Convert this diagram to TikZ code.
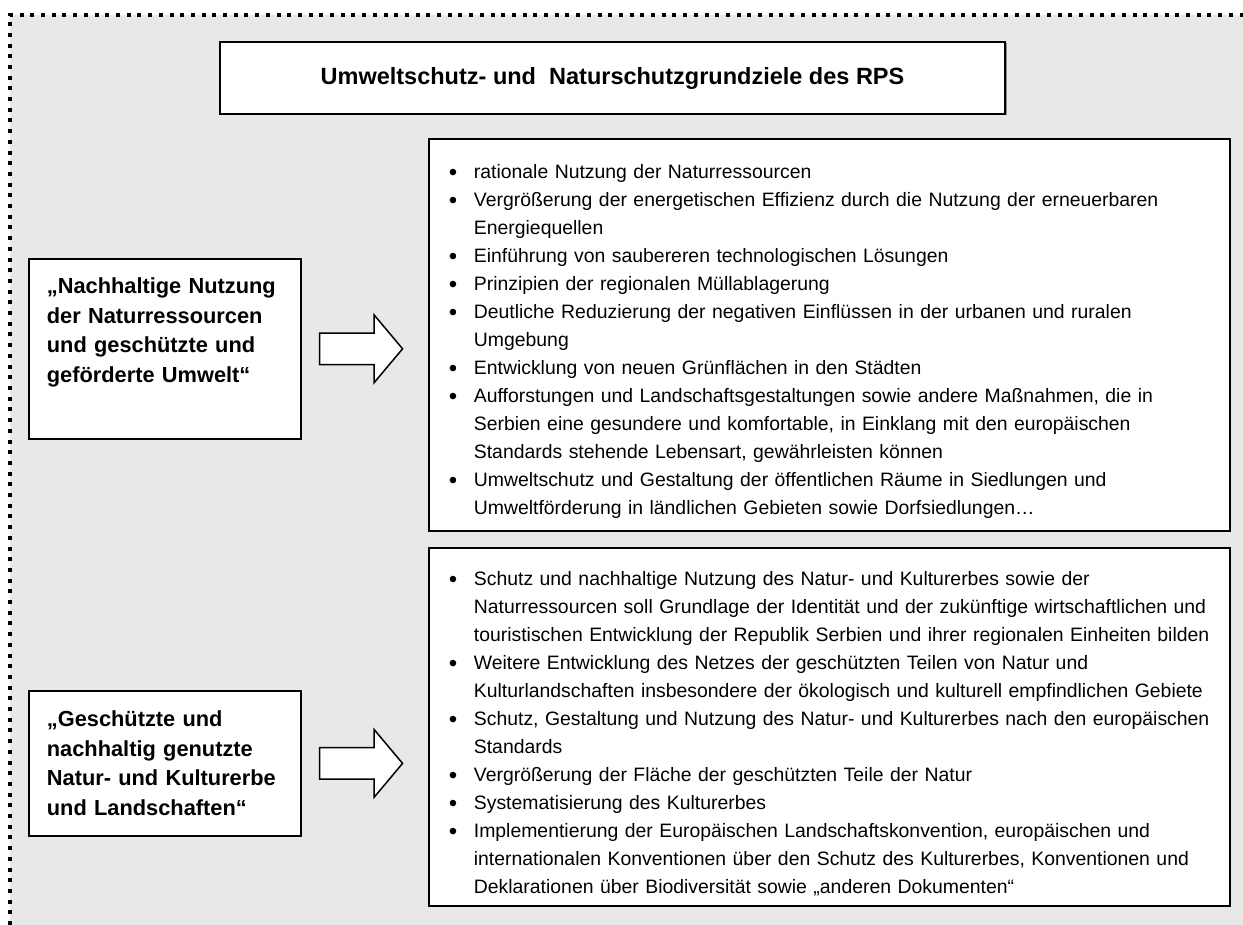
\documentclass[tikz,border=0pt]{standalone}
\usepackage{fontspec}
\setmainfont{Liberation Sans}
\usetikzlibrary{positioning,shapes.arrows,shadows}
\definecolor{panelgray}{RGB}{232,232,232}
\newcommand{\gitem}[1]{\par\noindent\hangindent=41pt\hangafter=1\makebox[41pt][l]{\hspace{16pt}{\fontsize{24pt}{0pt}\selectfont\raisebox{-1.5pt}{\textbullet}}}#1}

\begin{document}
\begin{tikzpicture}[x=1pt,y=-1pt,
  framed/.style={draw=black,line width=1.8pt,fill=white,inner sep=0pt,
    drop shadow={shadow xshift=1.5pt,shadow yshift=-1.5pt,opacity=1,fill=black!45}},
  goalbox/.style={framed,font=\fontsize{21.8pt}{29.5pt}\selectfont\bfseries,align=left,
    text width=236pt,minimum width=272pt,inner xsep=18pt,inner ysep=19pt,anchor=north west},
  listbox/.style={framed,font=\fontsize{19.4pt}{28pt}\selectfont,
    text width=793pt,minimum width=801pt,inner xsep=4pt,anchor=north west},
  bigarrow/.style={single arrow,draw=black,line width=1.5pt,fill=white,
    minimum height=83pt,minimum width=66pt,single arrow head extend=18pt,
    single arrow tip angle=100,inner sep=0pt,inner ysep=15pt,
    text height=0pt,text depth=0pt,right=17pt of #1}]
\useasboundingbox (0,0) rectangle (1243,925);
\fill[panelgray] (9.5,15) rectangle (1243,925);
\draw[line width=4pt,dash pattern=on 4pt off 6.7pt] (9.5,925) -- (9.5,15) -- (1243,15);

\node[framed,minimum width=785pt,minimum height=72pt,
  font=\fontsize{23.5pt}{28pt}\selectfont\bfseries] (titel) at (612.5,78)
  {Umweltschutz- und\ \ Naturschutzgrundziele des RPS};

\node[goalbox,text depth=126pt] (nutzung) at (28,258)
  {„Nachhaltige Nutzung\\ der Naturressourcen\\ und geschützte und\\ geförderte Umwelt“};
\node[goalbox,minimum height=145pt] (erbe) at (28,690)
  {„Geschützte und\\ nachhaltig genutzte\\ Natur- und Kulturerbe\\ und Landschaften“};

\node[bigarrow=nutzung] (pfeilA) {};
\node[bigarrow=erbe] (pfeilB) {};

\node[listbox,minimum height=392pt] (umweltziele) at (428,138) {%
\gitem{rationale Nutzung der Naturressourcen}
\gitem{Vergrößerung der energetischen Effizienz durch die Nutzung der erneuerbaren\newline Energiequellen}
\gitem{Einführung von saubereren technologischen Lösungen}
\gitem{Prinzipien der regionalen Müllablagerung}
\gitem{Deutliche Reduzierung der negativen Einflüssen in der urbanen und ruralen\newline Umgebung}
\gitem{Entwicklung von neuen Grünflächen in den Städten}
\gitem{Aufforstungen und Landschaftsgestaltungen sowie andere Maßnahmen, die in\newline Serbien eine gesundere und komfortable, in Einklang mit den europäischen\newline Standards stehende Lebensart, gewährleisten können}
\gitem{Umweltschutz und Gestaltung der öffentlichen Räume in Siedlungen und\newline Umweltförderung in ländlichen Gebieten sowie Dorfsiedlungen…}\par};

\node[listbox,minimum height=358pt] (erbeziele) at (428,547) {%
\gitem{Schutz und nachhaltige Nutzung des Natur- und Kulturerbes sowie der\newline Naturressourcen soll Grundlage der Identität und der zukünftige wirtschaftlichen und\newline touristischen Entwicklung der Republik Serbien und ihrer regionalen Einheiten bilden}
\gitem{Weitere Entwicklung des Netzes der geschützten Teilen von Natur und\newline Kulturlandschaften insbesondere der ökologisch und kulturell empfindlichen Gebiete}
\gitem{Schutz, Gestaltung und Nutzung des Natur- und Kulturerbes nach den europäischen\newline Standards}
\gitem{Vergrößerung der Fläche der geschützten Teile der Natur}
\gitem{Systematisierung des Kulturerbes}
\gitem{Implementierung der Europäischen Landschaftskonvention, europäischen und\newline internationalen Konventionen über den Schutz des Kulturerbes, Konventionen und\newline Deklarationen über Biodiversität sowie „anderen Dokumenten“}\par};
\end{tikzpicture}
\end{document}
